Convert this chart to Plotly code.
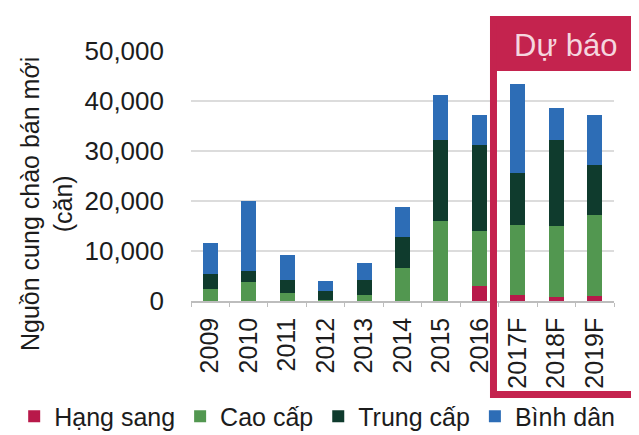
import plotly.graph_objects as go

years = ["2009", "2010", "2011", "2012", "2013", "2014", "2015", "2016", "2017F", "2018F", "2019F"]
hang_sang = [0, 0, 0, 0, 0, 0, 0, 3000, 1200, 800, 1000]
cao_cap = [2400, 3800, 1600, 200, 1200, 6600, 16000, 11000, 14000, 14200, 16200]
trung_cap = [3000, 2200, 2600, 1800, 3000, 6200, 16200, 17200, 10400, 17200, 10000]
binh_dan = [6200, 14000, 5000, 2000, 3400, 6000, 9000, 6000, 17800, 6400, 10000]

series = [
    ("Hạng sang", hang_sang, "#B8194A"),
    ("Cao cấp", cao_cap, "#529750"),
    ("Trung cấp", trung_cap, "#0F3B2D"),
    ("Bình dân", binh_dan, "#2D6DB6"),
]

FONT = "Liberation Sans, Arial, sans-serif"
TXT = "#1c1c1c"
RED = "#C4234E"

fig = go.Figure()
for name, vals, col in series:
    fig.add_trace(go.Bar(x=years, y=vals, name=name, marker=dict(color=col, line=dict(width=0))))

fig.update_layout(
    width=639, height=435,
    margin=dict(l=183, r=33, t=43, b=142, autoexpand=False),
    barmode="stack", bargap=0.61,
    plot_bgcolor="white", paper_bgcolor="white",
    font=dict(family=FONT, size=25, color=TXT),
    showlegend=True,
    legend=dict(orientation="h", x=-0.418, xanchor="left", y=-0.462, yanchor="middle",
                traceorder="normal", font=dict(size=25, color=TXT),
                bgcolor="rgba(0,0,0,0)", borderwidth=0, itemclick=False),
    xaxis=dict(type="category", showline=True, linecolor="#BDBDBD", linewidth=1.5,
               ticks="outside", tickson="boundaries", ticklen=4, tickcolor="#BDBDBD",
               tickangle=-90, tickfont=dict(size=25, color=TXT), ticklabelstandoff=5,
               showgrid=False, automargin=False),
    yaxis=dict(range=[0, 50000], dtick=10000, tickformat=",", showgrid=True,
               gridcolor="#DCDCDC", gridwidth=1.5, zeroline=False, showline=False,
               ticks="", ticklabelstandoff=26, tickfont=dict(size=26, color=TXT),
               automargin=False),
)

fig.add_annotation(xref="paper", yref="paper", x=(38 - 183) / 423, y=(293 - 196) / 250,
                   text="Nguồn cung chào bán mới<br>(căn)", textangle=-90,
                   showarrow=False, font=dict(size=25, color=TXT), align="center",
                   xanchor="center", yanchor="middle")

# Forecast box
fig.add_shape(type="rect", xref="paper", yref="paper", x0=0.711, x1=1.066, y0=0.92, y1=1.13,
              fillcolor=RED, line=dict(width=0), layer="above")
fig.add_shape(type="rect", xref="paper", yref="paper", x0=0.7151, x1=1.0626, y0=-0.374, y1=1.126,
              fillcolor="rgba(0,0,0,0)", line=dict(color=RED, width=7), layer="above")
fig.add_annotation(xref="paper", yref="paper", x=(557 - 183) / 423, y=(293 - 38) / 250,
                   text="Dự báo", showarrow=False, font=dict(size=31, color="#F5D6DF"),
                   xanchor="center", yanchor="middle")

fig.write_html("out.html")
